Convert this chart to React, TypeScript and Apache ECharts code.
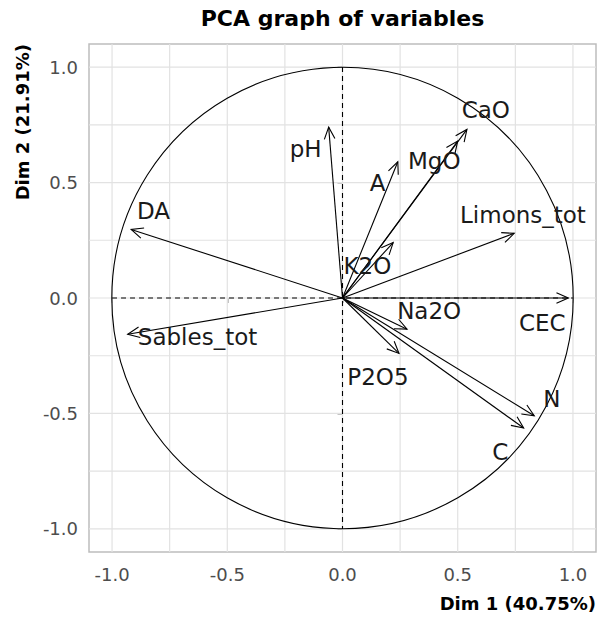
import React, { useEffect, useRef } from "react";
import * as echarts from "echarts";

// Variables of the PCA (correlation circle)
const variables = ["CEC", "CaO", "MgO", "A", "K2O", "pH", "Limons_tot", "DA", "Sables_tot", "Na2O", "P2O5", "N", "C"];
const dim1 = [0.98, 0.54, 0.5, 0.24, 0.22, -0.06, 0.745, -0.917, -0.932, 0.28, 0.245, 0.832, 0.786];
const dim2 = [0.0, 0.73, 0.68, 0.59, 0.24, 0.74, 0.28, 0.297, -0.157, -0.135, -0.24, -0.51, -0.563];
// label anchor positions (data units)
const labelX = [0.867, 0.622, 0.398, 0.152, 0.108, -0.16, 0.783, -0.82, -0.629, 0.376, 0.154, 0.909, 0.685];
const labelY = [-0.109, 0.813, 0.593, 0.499, 0.139, 0.644, 0.359, 0.377, -0.171, -0.055, -0.344, -0.437, -0.668];

const gridValues = [-1, -0.75, -0.5, -0.25, 0, 0.25, 0.5, 0.75, 1];
const tickValues = [-1, -0.5, 0, 0.5, 1];

const titleText = "PCA graph of variables";
const xTitle = "Dim 1 (40.75%)";
const yTitle = "Dim 2 (21.91%)";

const FONT = "DejaVu Sans";

const fmt = (v: number) => (Math.abs(v * 2 - Math.round(v * 2)) > 1e-6 ? "" : v.toFixed(1));

export default function App() {
  const ref = useRef<HTMLDivElement>(null);
  useEffect(() => {
    if (!ref.current) return;
    const chart = echarts.init(ref.current, undefined, { renderer: "svg" });
    const axisCommon = (isX: boolean) => ({
      type: "value",
      min: -1.1,
      max: 1.1,
      splitLine: { show: false },
      axisLine: { show: false },
      axisTick: {
        show: true,
        customValues: tickValues,
        length: 5,
        lineStyle: { color: "#b0b0b0", width: 1.5 },
      },
      axisLabel: {
        customValues: tickValues,
        formatter: fmt,
        color: "#4d4d4d",
        fontSize: 18,
        fontFamily: FONT,
        margin: isX ? 13 : 11,
      },
    });
    const option: any = {
      animation: false,
      backgroundColor: "#ffffff",
      grid: {
        left: 89,
        right: 2,
        top: 44,
        bottom: 67,
        show: true,
        borderColor: "#bdbdbd",
        borderWidth: 1.5,
        backgroundColor: "transparent",
      },
      xAxis: axisCommon(true),
      yAxis: axisCommon(false),
      graphic: [
        {
          type: "text",
          x: 342.5,
          y: 18,
          style: {
            text: titleText,
            fontSize: 22,
            fontWeight: "bold",
            fontFamily: FONT,
            fill: "#000",
            align: "center",
            verticalAlign: "middle",
          },
        },
        {
          type: "text",
          x: 596,
          y: 603,
          style: {
            text: xTitle,
            fontSize: 18,
            fontWeight: "bold",
            fontFamily: FONT,
            fill: "#000",
            align: "right",
            verticalAlign: "middle",
          },
        },
        {
          type: "text",
          x: 22,
          y: 44,
          rotation: Math.PI / 2,
          style: {
            text: yTitle,
            fontSize: 18,
            fontWeight: "bold",
            fontFamily: FONT,
            fill: "#000",
            align: "right",
            verticalAlign: "middle",
          },
        },
      ],
      series: [
        {
          type: "custom",
          z: 1,
          silent: true,
          data: gridValues.map((v) => [v, v]),
          encode: { x: 0, y: 1 },
          renderItem: (_p: any, api: any) => {
            const v = api.value(0);
            const a = api.coord([v, -1.1]);
            const b = api.coord([v, 1.1]);
            const c = api.coord([-1.1, v]);
            const d = api.coord([1.1, v]);
            const st = { stroke: "#e2e2e2", lineWidth: 1.2 };
            return {
              type: "group",
              children: [
                { type: "line", shape: { x1: a[0], y1: a[1], x2: b[0], y2: b[1] }, style: st },
                { type: "line", shape: { x1: c[0], y1: c[1], x2: d[0], y2: d[1] }, style: st },
              ],
            };
          },
        },
        {
          type: "custom",
          z: 2,
          silent: true,
          data: [[0, 0]],
          encode: { x: 0, y: 1 },
          renderItem: (_p: any, api: any) => {
            const c = api.coord([0, 0]);
            const s = api.size([1, 1]);
            const r = (s[0] + s[1]) / 2;
            const l = api.coord([-1, 0]);
            const rr = api.coord([1, 0]);
            const t = api.coord([0, 1]);
            const b = api.coord([0, -1]);
            const dash = { stroke: "#000", lineWidth: 1.1, lineDash: [5, 4] };
            return {
              type: "group",
              children: [
                { type: "circle", shape: { cx: c[0], cy: c[1], r }, style: { fill: "none", stroke: "#000", lineWidth: 1.1 } },
                { type: "line", shape: { x1: l[0], y1: l[1], x2: rr[0], y2: rr[1] }, style: dash },
                { type: "line", shape: { x1: t[0], y1: t[1], x2: b[0], y2: b[1] }, style: dash },
              ],
            };
          },
        },
        {
          type: "custom",
          z: 3,
          silent: true,
          data: variables.map((_n, i) => [dim1[i], dim2[i]]),
          encode: { x: 0, y: 1 },
          renderItem: (_p: any, api: any) => {
            const o = api.coord([0, 0]);
            const p = api.coord([api.value(0), api.value(1)]);
            const ang = Math.atan2(p[1] - o[1], p[0] - o[0]);
            const L = 13;
            const h = (24 * Math.PI) / 180;
            const a1 = [p[0] - L * Math.cos(ang - h), p[1] - L * Math.sin(ang - h)];
            const a2 = [p[0] - L * Math.cos(ang + h), p[1] - L * Math.sin(ang + h)];
            const st = { stroke: "#000", lineWidth: 1.1, fill: "none" };
            return {
              type: "group",
              children: [
                { type: "line", shape: { x1: o[0], y1: o[1], x2: p[0], y2: p[1] }, style: st },
                { type: "polyline", shape: { points: [a1, p, a2] }, style: st },
              ],
            };
          },
        },
        {
          type: "custom",
          z: 4,
          silent: true,
          data: variables.map((_n, i) => [labelX[i], labelY[i], i]),
          encode: { x: 0, y: 1 },
          renderItem: (_p: any, api: any) => {
            const p = api.coord([api.value(0), api.value(1)]);
            const name = variables[api.value(2)];
            return {
              type: "text",
              x: p[0],
              y: p[1],
              style: {
                text: name,
                fontSize: 23,
                fontFamily: FONT,
                fill: "#1a1a1a",
                align: "center",
                verticalAlign: "middle",
              },
            };
          },
        },
      ],
    };
    chart.setOption(option);
    return () => chart.dispose();
  }, []);
  return (
    <div
      ref={ref}
      style={{ position: "absolute", left: 0, top: 0, width: 598, height: 619, background: "#fff" }}
    />
  );
}
